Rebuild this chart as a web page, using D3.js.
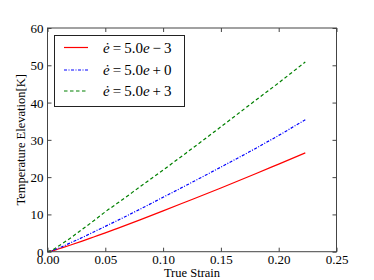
<!DOCTYPE html>
<html><head><meta charset="utf-8">
<script src="https://cdn.jsdelivr.net/npm/d3@7"></script>
<style>body{margin:0;background:#fff}svg{display:block}
svg text{font-family:"Liberation Serif","Times New Roman","DejaVu Serif",serif !important;}</style>
</head><body><svg id="c" width="374" height="280"></svg>
<script>
const strain = [0, 0.005, 0.01, 0.02, 0.03, 0.04, 0.05, 0.06, 0.08, 0.10, 0.12, 0.15, 0.18, 0.20, 0.223];
const tempLow = [0, 0.3, 0.8, 1.8, 2.85, 3.95, 5.05, 6.2, 8.55, 10.95, 13.4, 17.1, 20.9, 23.5, 26.5];
const tempMid = [0, 0.4, 1.0, 2.4, 3.8, 5.3, 6.8, 8.3, 11.4, 14.6, 17.8, 22.7, 27.7, 31.2, 35.4];
const tempHigh = [0, 0.6, 1.6, 3.7, 6.0, 8.3, 10.7, 12.9, 17.4, 21.9, 26.5, 33.5, 40.6, 45.3, 50.9];
const seriesLabels = ["5.0e\u22123", "5.0e+0", "5.0e+3"];
const xTicks = [0, 0.05, 0.10, 0.15, 0.20, 0.25];
const yTicks = [0, 10, 20, 30, 40, 50, 60];

const svg = d3.select("#c");
const L = 47.5, R = 336.5, T = 28, B = 251.7;
const x = d3.scaleLinear().domain([0, 0.25]).range([L, R]);
const y = d3.scaleLinear().domain([0, 60]).range([B, T]);

const styles = [
  {data: tempLow, color: "#ff0000", dash: null},
  {data: tempMid, color: "#0000ff", dash: "3,1.5,1,1.5"},
  {data: tempHigh, color: "#008000", dash: "3.5,2.5"}
];
const line = d3.line().curve(d3.curveMonotoneX).x(d => x(d[0])).y(d => y(d[1]));
styles.forEach(s => {
  svg.append("path").datum(strain.map((v, i) => [v, s.data[i]]))
    .attr("d", line).attr("fill", "none").attr("stroke", s.color)
    .attr("stroke-width", 1.2).attr("stroke-dasharray", s.dash);
});

// frame
svg.append("rect").attr("x", L).attr("y", T).attr("width", R - L).attr("height", B - T)
  .attr("fill", "none").attr("stroke", "#444").attr("stroke-width", 1);

const tl = 4;
const xa = svg.append("g").attr("transform", `translate(0,${B})`)
  .call(d3.axisBottom(x).tickValues(xTicks).tickFormat(d3.format(".2f")).tickSizeInner(-tl).tickSizeOuter(0).tickPadding(5));
const xt = svg.append("g").attr("transform", `translate(0,${T})`)
  .call(d3.axisTop(x).tickValues(xTicks).tickFormat("").tickSizeInner(-tl).tickSizeOuter(0));
const ya = svg.append("g").attr("transform", `translate(${L},0)`)
  .call(d3.axisLeft(y).tickValues(yTicks).tickSizeInner(-tl).tickSizeOuter(0).tickPadding(4));
const yr = svg.append("g").attr("transform", `translate(${R},0)`)
  .call(d3.axisRight(y).tickValues(yTicks).tickFormat("").tickSizeInner(-tl).tickSizeOuter(0));
[xa, xt, ya, yr].forEach(g => {
  g.attr("font-family", null).attr("font-size", null);
  g.select(".domain").remove();
  g.selectAll("line").attr("stroke", "#444");
  g.selectAll("text").attr("font-size", 13).attr("fill", "#000");
});
xa.selectAll("text").attr("dy", "0.55em");
ya.selectAll("text").attr("dy", "0.35em");

svg.append("text").attr("x", (L + R) / 2).attr("y", 277).attr("text-anchor", "middle")
  .attr("font-size", 12.5).text("True Strain");
svg.append("text").attr("transform", `translate(25,${(T + B) / 2}) rotate(-90)`)
  .attr("text-anchor", "middle").attr("font-size", 12.5)
  .text("Temperature Elevation[K]");

// legend
const lg = svg.append("g");
lg.append("rect").attr("x", 54.5).attr("y", 35.5).attr("width", 130).attr("height", 71)
  .attr("fill", "#fff").attr("stroke", "#222").attr("stroke-width", 1);
const rows = [47.5, 70, 91];
styles.forEach((s, i) => {
  lg.append("line").attr("x1", 64).attr("x2", 88).attr("y1", rows[i]).attr("y2", rows[i])
    .attr("stroke", s.color).attr("stroke-width", 1.2).attr("stroke-dasharray", s.dash);
  const t = lg.append("text").attr("x", 103).attr("y", rows[i] + 5).attr("font-size", 15);
  t.append("tspan").attr("font-style", "italic").text("\u0117");
  t.append("tspan").text("\u2009=\u20095.0");
  t.append("tspan").attr("font-style", "italic").text("e");
  const rest = seriesLabels[i].slice(4);
  t.append("tspan").text("\u2009" + rest[0] + "\u2009" + rest.slice(1));
});
</script></body></html>
